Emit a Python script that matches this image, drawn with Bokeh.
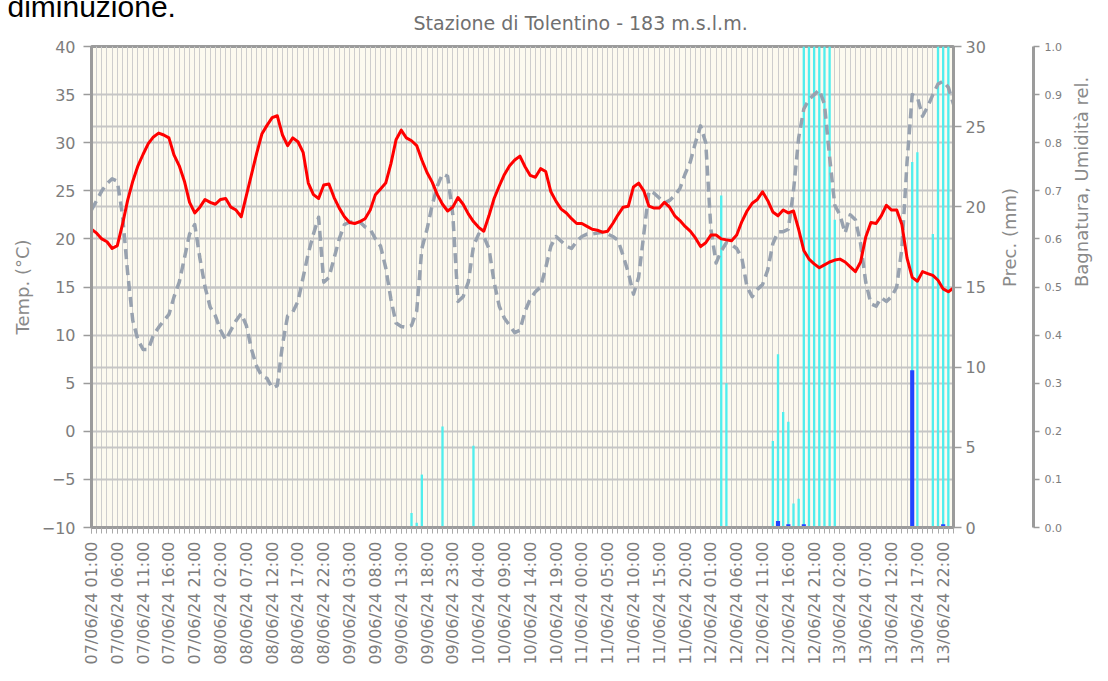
import math
from bokeh.plotting import figure
from bokeh.models import Range1d, LinearAxis, FixedTicker, Grid, Title, PrintfTickFormatter
from bokeh.embed import file_html
from bokeh.resources import INLINE

# ---------------- data ----------------
hours = list(range(168))  # hourly from 07/06/24 01:00

temperature = [
    21.0, 20.6, 20.0, 19.7, 19.0, 19.3, 21.5, 24.0, 26.0, 27.6,
    28.8, 29.9, 30.6, 31.0, 30.8, 30.5, 28.7, 27.6, 26.0, 23.8,
    22.7, 23.3, 24.1, 23.8, 23.6, 24.1, 24.2, 23.3, 23.0, 22.3,
    24.5, 26.7, 28.9, 30.9, 31.8, 32.6, 32.8, 30.8, 29.7, 30.5,
    30.1, 29.0, 25.8, 24.6, 24.2, 25.6, 25.7, 24.3, 23.2, 22.3,
    21.7, 21.6, 21.8, 22.1, 23.0, 24.6, 25.2, 25.8, 27.8, 30.3,
    31.3, 30.5, 30.2, 29.7, 28.2, 26.9, 25.9, 24.6, 23.6, 22.9,
    23.3, 24.3, 23.6, 22.6, 21.8, 21.2, 20.8, 22.4, 24.2, 25.5,
    26.7, 27.6, 28.2, 28.6, 27.5, 26.6, 26.4, 27.3, 27.0, 24.9,
    23.9, 23.1, 22.7, 22.1, 21.6, 21.6, 21.3, 21.0, 20.9, 20.7,
    20.8, 21.6, 22.5, 23.3, 23.4, 25.4, 25.8, 25.0, 23.4, 23.2,
    23.2, 23.8, 23.3, 22.4, 21.9, 21.3, 20.8, 20.1, 19.2, 19.6,
    20.4, 20.4, 20.0, 19.9, 19.8, 20.4, 21.8, 22.9, 23.7, 24.1,
    24.9, 24.0, 22.8, 22.4, 23.0, 22.7, 22.9, 21.0, 18.8, 17.9,
    17.4, 17.0, 17.3, 17.6, 17.8, 17.9, 17.6, 17.1, 16.6, 17.6,
    20.2, 21.7, 21.6, 22.4, 23.5, 23.0, 23.0, 21.5, 18.0, 16.0,
    15.6, 16.6, 16.4, 16.2, 15.7, 14.8, 14.5, 14.9,
]

humidity = [
    0.66, 0.68, 0.70, 0.715, 0.725, 0.72, 0.65, 0.53, 0.43, 0.39,
    0.37, 0.37, 0.40, 0.416, 0.43, 0.443, 0.48, 0.51, 0.56, 0.61,
    0.63, 0.56, 0.50, 0.458, 0.44, 0.41, 0.39, 0.41, 0.43, 0.445,
    0.42, 0.37, 0.335, 0.315, 0.31, 0.29, 0.295, 0.38, 0.44, 0.448,
    0.47, 0.52, 0.57, 0.61, 0.645, 0.51, 0.52, 0.56, 0.60, 0.63,
    0.635, 0.635, 0.635, 0.625, 0.62, 0.60, 0.585, 0.54, 0.475, 0.425,
    0.418, 0.416, 0.42, 0.45, 0.58, 0.62, 0.67, 0.71, 0.735, 0.73,
    0.65, 0.47, 0.48, 0.51, 0.585, 0.61, 0.605, 0.58, 0.51, 0.46,
    0.435, 0.42, 0.405, 0.41, 0.45, 0.475, 0.49, 0.50, 0.54, 0.585,
    0.605, 0.595, 0.585, 0.58, 0.595, 0.605, 0.61, 0.61, 0.612, 0.614,
    0.61, 0.605, 0.597, 0.565, 0.53, 0.485, 0.52, 0.61, 0.70, 0.695,
    0.685, 0.675, 0.68, 0.69, 0.705, 0.735, 0.76, 0.80, 0.835, 0.80,
    0.62, 0.55, 0.575, 0.592, 0.588, 0.58, 0.56, 0.50, 0.48, 0.495,
    0.505, 0.535, 0.59, 0.615, 0.615, 0.62, 0.70, 0.81, 0.87, 0.89,
    0.90, 0.91, 0.88, 0.77, 0.67, 0.65, 0.612, 0.65, 0.64, 0.59,
    0.51, 0.465, 0.46, 0.478, 0.47, 0.48, 0.50, 0.58, 0.76, 0.90,
    0.895, 0.855, 0.875, 0.90, 0.922, 0.928, 0.915, 0.88,
]

wet_hours = [62, 63, 64, 68, 74, 122, 123, 132, 133, 134, 135, 136, 137,
             138, 139, 140, 141, 142, 143, 144, 159, 160, 163, 164, 165, 166]
wet_values = [0.03, 0.01, 0.11, 0.21, 0.17, 0.69, 0.30, 0.18, 0.36, 0.24, 0.22, 0.05, 0.06,
              1.0, 1.0, 1.0, 1.0, 1.0, 1.0, 0.64, 0.76, 0.78, 0.61, 1.0, 1.0, 1.0]

prec_hours = [133, 135, 138, 159, 165]
prec_mm = [0.4, 0.2, 0.2, 9.8, 0.2]

tick_hours = list(range(0, 168, 5))
tick_labels = [
    "07/06/24 01:00", "07/06/24 06:00", "07/06/24 11:00", "07/06/24 16:00", "07/06/24 21:00",
    "08/06/24 02:00", "08/06/24 07:00", "08/06/24 12:00", "08/06/24 17:00", "08/06/24 22:00",
    "09/06/24 03:00", "09/06/24 08:00", "09/06/24 13:00", "09/06/24 18:00", "09/06/24 23:00",
    "10/06/24 04:00", "10/06/24 09:00", "10/06/24 14:00", "10/06/24 19:00", "11/06/24 00:00",
    "11/06/24 05:00", "11/06/24 10:00", "11/06/24 15:00", "11/06/24 20:00", "12/06/24 01:00",
    "12/06/24 06:00", "12/06/24 11:00", "12/06/24 16:00", "12/06/24 21:00", "13/06/24 02:00",
    "13/06/24 07:00", "13/06/24 12:00", "13/06/24 17:00", "13/06/24 22:00",
]

temp_ticks = list(range(-10, 41, 5))
prec_ticks = list(range(0, 31, 5))
rel_ticks = [i / 10 for i in range(11)]

# ---------------- styling ----------------
FONT = "DejaVu Sans"
GRAY_AX = "#9b9b9b"
TICK_TXT = "#7d7d7d"
TITLE_TXT = "#8a8a8a"

W, H = 1108, 681
FL, FR, FT, FB = 91, 953, 46, 527   # frame edges in page pixels

p = figure(width=W, height=H, output_backend="svg", toolbar_location=None,
           x_range=Range1d(0, 167), y_range=Range1d(-10, 40),
           min_border_left=FL, min_border_right=W - FR, min_border_top=FT,
           min_border_bottom=H - FB)
p.extra_y_ranges = {"prec": Range1d(0, 30), "rel": Range1d(0, 1)}

p.background_fill_color = "#fcfaef"
p.border_fill_color = "white"
p.outline_line_color = GRAY_AX
p.outline_line_width = 3

# titles: main title next to the frame, then the clipped text line of the page above
p.title = None
main_title = Title(text="Stazione di Tolentino - 183 m.s.l.m.", align="left",
                   vertical_align="top", offset=413 - FL, standoff=21,
                   text_font=FONT, text_font_size="19px", text_font_style="normal",
                   text_color="#707070")
p.add_layout(main_title, "above")
page_line = Title(text="diminuzione.", align="left", vertical_align="bottom",
                  offset=7 - FL, standoff=-43, text_font="Liberation Sans",
                  text_font_size="30px", text_font_style="normal", text_color="black")
p.add_layout(page_line, "above")

# grids
p.xgrid.ticker = FixedTicker(ticks=hours)
p.xgrid.grid_line_color = "#cdcdcd"
p.xgrid.grid_line_width = 1
p.ygrid.ticker = FixedTicker(ticks=temp_ticks)
p.ygrid.grid_line_color = "#c6c6c6"
p.ygrid.grid_line_width = 2
prec_grid = Grid(dimension=1, ticker=FixedTicker(ticks=prec_ticks), y_range_name="prec",
                 grid_line_color="#c6c6c6", grid_line_width=2)
p.add_layout(prec_grid)

# bottom axis
xa = p.xaxis[0]
xa.ticker = FixedTicker(ticks=tick_hours, minor_ticks=hours)
xa.major_label_overrides = {h: lab for h, lab in zip(tick_hours, tick_labels)}
xa.major_label_orientation = math.pi / 2
xa.major_label_text_font = FONT
xa.major_label_text_font_size = "16px"
xa.major_label_text_color = TICK_TXT
xa.major_label_standoff = 8
xa.axis_line_color = GRAY_AX
xa.axis_line_width = 3
xa.major_tick_out = 6
xa.major_tick_in = 0
xa.minor_tick_out = 6
xa.minor_tick_in = 0
xa.major_tick_line_color = "#aaaaaa"
xa.minor_tick_line_color = "#aaaaaa"

# left axis
ya = p.yaxis[0]
ya.ticker = FixedTicker(ticks=temp_ticks)
ya.axis_label = "Temp. (°C)"
ya.axis_label_text_font = FONT
ya.axis_label_text_font_size = "18px"
ya.axis_label_text_font_style = "normal"
ya.axis_label_text_color = TITLE_TXT
ya.axis_label_standoff = 6
ya.major_label_text_font = FONT
ya.major_label_text_font_size = "16px"
ya.major_label_text_color = TICK_TXT
ya.major_label_standoff = 8
ya.axis_line_color = GRAY_AX
ya.axis_line_width = 3
ya.major_tick_out = 8
ya.major_tick_in = 0
ya.major_tick_line_color = GRAY_AX
ya.major_tick_line_width = 1.5
ya.minor_tick_line_color = None

# right axis: precipitation
prec_axis = LinearAxis(y_range_name="prec", ticker=FixedTicker(ticks=prec_ticks),
                       axis_label="Prec. (mm)", axis_label_text_color=TITLE_TXT,
                       axis_label_text_font=FONT, axis_label_text_font_size="18px",
                       axis_label_text_font_style="normal", axis_label_standoff=21,
                       major_label_text_font=FONT, major_label_text_font_size="16px",
                       major_label_text_color=TICK_TXT, major_label_standoff=4,
                       axis_line_color=GRAY_AX, axis_line_width=3,
                       major_tick_out=8, major_tick_in=0, major_tick_line_color=GRAY_AX,
                       major_tick_line_width=1.5, minor_tick_line_color=None)
p.add_layout(prec_axis, "right")

# empty spacer between the two right axes
spacer = Title(text=" ", text_font_size="1px", standoff=23, text_alpha=0)
p.add_layout(spacer, "right")

# right axis: wetness / relative humidity
rel_axis = LinearAxis(y_range_name="rel", ticker=FixedTicker(ticks=rel_ticks),
                      formatter=PrintfTickFormatter(format="%.1f"),
                      axis_label="Bagnatura, Umidità rel.", axis_label_text_color=TITLE_TXT,
                      axis_label_text_font=FONT, axis_label_text_font_size="18px",
                      axis_label_text_font_style="normal", axis_label_standoff=17,
                      axis_label_text_line_height=1.0,
                      major_label_text_font=FONT, major_label_text_font_size="11px",
                      major_label_text_color=TICK_TXT, major_label_standoff=5,
                      axis_line_color=GRAY_AX, axis_line_width=3,
                      major_tick_out=6, major_tick_in=0, major_tick_line_color=GRAY_AX,
                      major_tick_line_width=1.5, minor_tick_line_color=None)
p.add_layout(rel_axis, "right")

# right-hand titles read bottom-to-top, as in the reference (if supported)
for ax in (prec_axis, rel_axis):
    try:
        ax.axis_label_orientation = math.pi / 2
    except Exception:
        pass

# ---------------- data renderers ----------------
p.vbar(x=wet_hours, top=wet_values, width=0.45, y_range_name="rel",
       fill_color="#50eeee", line_color=None)
p.vbar(x=prec_hours, top=prec_mm, width=0.8, y_range_name="prec",
       fill_color="#2244ff", line_color=None)
p.line(hours, humidity, y_range_name="rel", line_color="#98a2af", line_width=3.5,
       line_dash="10 6", line_join="round")
p.line(hours, temperature, line_color="#ff0000", line_width=3, line_join="round")

open("out.html", "w").write(file_html(p, INLINE))
